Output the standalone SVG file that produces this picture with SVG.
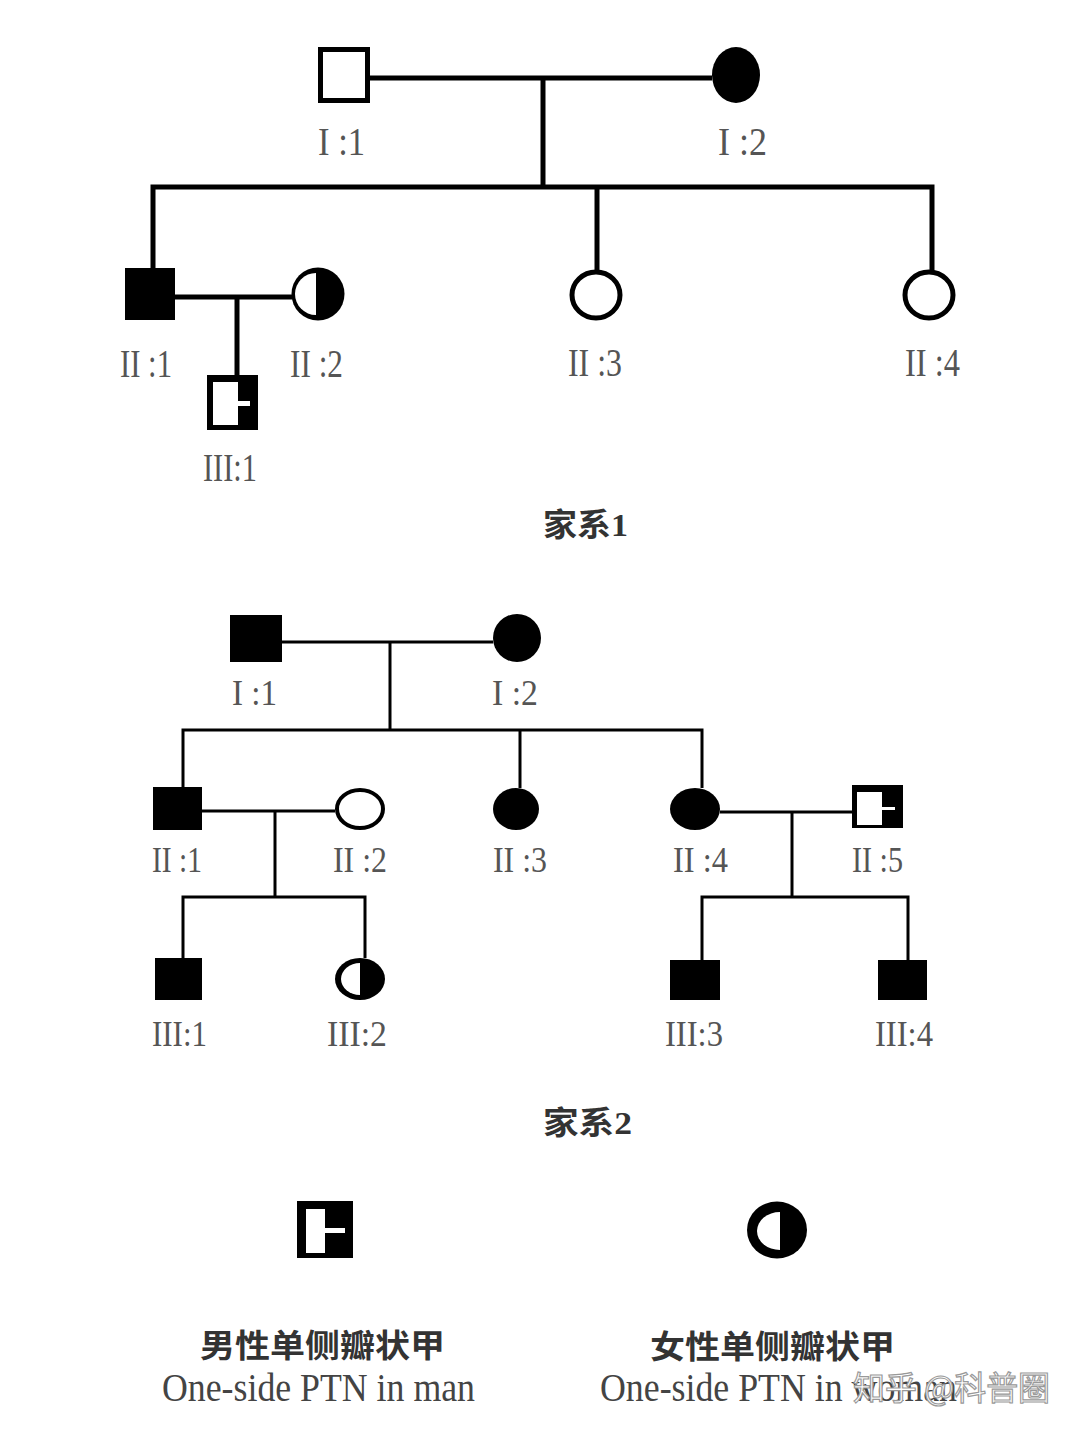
<svg xmlns="http://www.w3.org/2000/svg" width="1080" height="1433" viewBox="0 0 1080 1433">
<style>
.bg{fill:#fff}
.f{fill:#000}
.w{fill:#fff}
.o1{fill:#fff;stroke:#000;stroke-width:5}
.o2{fill:#fff;stroke:#000;stroke-width:4}
.c1{fill:none;stroke:#000;stroke-width:5}
.c2{fill:none;stroke:#000;stroke-width:3}
.l1{font-family:"Liberation Serif","Times New Roman",serif;font-size:41px;fill:#555}
.l2{font-family:"Liberation Serif","Times New Roman",serif;font-size:35px;fill:#555}
.t{font-family:"Liberation Serif","Noto Sans CJK SC",serif;font-size:32px;fill:#333;font-weight:bold}
.zh{font-family:"Noto Sans CJK SC",sans-serif;font-size:32px;fill:#333;font-weight:bold}
.en{font-family:"Liberation Serif","Times New Roman",serif;font-size:40px;fill:#444}
.wm{font-family:"Noto Sans CJK SC",sans-serif;font-size:33px;fill:#fff;stroke:#999;stroke-width:1.2}
</style>
<rect class="bg" x="0" y="0" width="1080" height="1433"/>

<g id="connectors">
  <g id="fam1-lines">
    <path class="c1" d="M370,78 H712"/>
    <path class="c1" d="M543,78 V187"/>
    <path class="c1" d="M153,268 V187 H932 V270"/>
    <path class="c1" d="M597,187 V270"/>
    <path class="c1" d="M175,297 H292"/>
    <path class="c1" d="M237,297 V376"/>
  </g>
  <g id="fam2-lines">
    <path class="c2" d="M282,642 H493"/>
    <path class="c2" d="M390,642 V730"/>
    <path class="c2" d="M183,787 V730 H702 V788"/>
    <path class="c2" d="M520,730 V788"/>
    <path class="c2" d="M202,811 H335"/>
    <path class="c2" d="M275,811 V897"/>
    <path class="c2" d="M183,958 V897 H365 V958"/>
    <path class="c2" d="M720,812 H852"/>
    <path class="c2" d="M792,812 V897"/>
    <path class="c2" d="M702,960 V897 H908 V960"/>
  </g>
</g>

<!-- Family 1 -->
<g id="f1-I1">
  <rect class="o1" x="320.5" y="49.5" width="47" height="51"/>
  <text class="l1" x="318" y="155" textLength="47" lengthAdjust="spacingAndGlyphs">I :1</text>
</g>
<g id="f1-I2">
  <ellipse class="f" cx="736" cy="75" rx="24" ry="28"/>
  <text class="l1" x="718" y="155" textLength="49" lengthAdjust="spacingAndGlyphs">I :2</text>
</g>
<g id="f1-II1">
  <rect class="f" x="125" y="268" width="50" height="52"/>
  <text class="l1" x="120" y="377" textLength="52" lengthAdjust="spacingAndGlyphs">II :1</text>
</g>
<g id="f1-II2">
  <ellipse class="f" cx="318" cy="294" rx="26.5" ry="26.5"/>
  <path class="w" d="M316,273 A21,21 0 0 0 316,315 Z"/>
  <text class="l1" x="290" y="377" textLength="53" lengthAdjust="spacingAndGlyphs">II :2</text>
</g>
<g id="f1-II3">
  <ellipse class="o1" cx="596" cy="295" rx="24" ry="23"/>
  <text class="l1" x="568" y="376" textLength="54" lengthAdjust="spacingAndGlyphs">II :3</text>
</g>
<g id="f1-II4">
  <ellipse class="o1" cx="929" cy="295" rx="24" ry="23"/>
  <text class="l1" x="905" y="376" textLength="55" lengthAdjust="spacingAndGlyphs">II :4</text>
</g>
<g id="f1-III1">
  <rect class="f" x="207" y="375" width="51" height="55"/>
  <rect class="w" x="213" y="382" width="25" height="43"/>
  <rect class="w" x="238" y="401" width="12" height="5"/>
  <text class="l1" x="203" y="481" textLength="54" lengthAdjust="spacingAndGlyphs">III:1</text>
</g>
<g id="f1-title">
  <text class="t" x="543" y="536" textLength="85" lengthAdjust="spacingAndGlyphs">家系1</text>
</g>

<!-- Family 2 -->
<g id="f2-I1">
  <rect class="f" x="230" y="615" width="52" height="47"/>
  <text class="l2" x="232" y="705" textLength="45" lengthAdjust="spacingAndGlyphs">I :1</text>
</g>
<g id="f2-I2">
  <ellipse class="f" cx="517" cy="638" rx="24" ry="24"/>
  <text class="l2" x="492" y="705" textLength="46" lengthAdjust="spacingAndGlyphs">I :2</text>
</g>
<g id="f2-II1">
  <rect class="f" x="153" y="787" width="49" height="43"/>
  <text class="l2" x="152" y="872" textLength="50" lengthAdjust="spacingAndGlyphs">II :1</text>
</g>
<g id="f2-II2">
  <ellipse class="o2" cx="360" cy="809" rx="23" ry="19"/>
  <text class="l2" x="333" y="872" textLength="54" lengthAdjust="spacingAndGlyphs">II :2</text>
</g>
<g id="f2-II3">
  <ellipse class="f" cx="516" cy="809" rx="23" ry="21"/>
  <text class="l2" x="493" y="872" textLength="54" lengthAdjust="spacingAndGlyphs">II :3</text>
</g>
<g id="f2-II4">
  <ellipse class="f" cx="695" cy="809" rx="25" ry="21"/>
  <text class="l2" x="673" y="872" textLength="55" lengthAdjust="spacingAndGlyphs">II :4</text>
</g>
<g id="f2-II5">
  <rect class="f" x="852" y="785" width="51" height="43"/>
  <rect class="w" x="857" y="792" width="25" height="33"/>
  <rect class="w" x="882" y="807" width="13" height="3"/>
  <text class="l2" x="852" y="872" textLength="51" lengthAdjust="spacingAndGlyphs">II :5</text>
</g>
<g id="f2-III1">
  <rect class="f" x="155" y="958" width="47" height="42"/>
  <text class="l2" x="152" y="1046" textLength="55" lengthAdjust="spacingAndGlyphs">III:1</text>
</g>
<g id="f2-III2">
  <ellipse class="f" cx="360" cy="979" rx="25" ry="21"/>
  <path class="w" d="M360,963 A19,16 0 0 0 360,995 Z"/>
  <text class="l2" x="327" y="1046" textLength="60" lengthAdjust="spacingAndGlyphs">III:2</text>
</g>
<g id="f2-III3">
  <rect class="f" x="670" y="960" width="50" height="40"/>
  <text class="l2" x="665" y="1046" textLength="58" lengthAdjust="spacingAndGlyphs">III:3</text>
</g>
<g id="f2-III4">
  <rect class="f" x="878" y="960" width="49" height="40"/>
  <text class="l2" x="875" y="1046" textLength="58" lengthAdjust="spacingAndGlyphs">III:4</text>
</g>
<g id="f2-title">
  <text class="t" x="543" y="1134" textLength="89" lengthAdjust="spacingAndGlyphs">家系2</text>
</g>

<!-- Legend -->
<g id="legend-man">
  <rect class="f" x="297" y="1201" width="56" height="57"/>
  <rect class="w" x="306" y="1209" width="19" height="44"/>
  <rect class="w" x="325" y="1228" width="20" height="5"/>
  <text class="zh" x="200" y="1357" textLength="245" lengthAdjust="spacingAndGlyphs">男性单侧瓣状甲</text>
  <text class="en" x="162" y="1401" textLength="313" lengthAdjust="spacingAndGlyphs">One-side PTN in man</text>
</g>
<g id="legend-woman">
  <ellipse class="f" cx="777" cy="1230" rx="30" ry="28.5"/>
  <path class="w" d="M780,1212 A23,19 0 0 0 780,1250 Z"/>
  <text class="zh" x="650" y="1358" textLength="245" lengthAdjust="spacingAndGlyphs">女性单侧瓣状甲</text>
  <text class="en" x="600" y="1401" textLength="357" lengthAdjust="spacingAndGlyphs">One-side PTN in woman</text>
</g>
<g id="watermark">
  <text class="wm" x="853" y="1400" textLength="197" lengthAdjust="spacingAndGlyphs">知乎 @科普圈</text>
</g>
</svg>
